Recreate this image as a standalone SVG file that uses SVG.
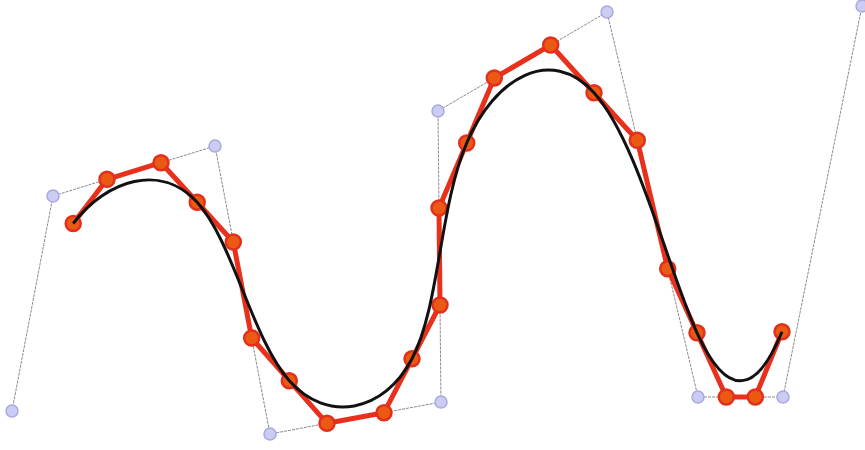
<svg xmlns="http://www.w3.org/2000/svg" width="865" height="450" viewBox="0 0 865 450">
<style>
.poly{fill:none;stroke:#8a8a8a;stroke-width:1;stroke-dasharray:3 1}
.cp{fill:#ccccf2;stroke:#a9a9e2;stroke-width:1.5}
.red{fill:none;stroke:#e8301c;stroke-width:5;stroke-linejoin:round}
.rp{fill:#ea5a14;stroke:#e2301c;stroke-width:2.5}
.curve{fill:none;stroke:#111;stroke-width:3}
</style>
<rect width="865" height="450" fill="#fff"/>
<g id="control-polygon">
<polyline class="poly" points="12,411 53,196 215,146 270,434 441,402 438,111 607,12 698,397 783,397 862,6"/>
<circle class="cp" cx="12" cy="411" r="6"/>
<circle class="cp" cx="53" cy="196" r="6"/>
<circle class="cp" cx="215" cy="146" r="6"/>
<circle class="cp" cx="270" cy="434" r="6"/>
<circle class="cp" cx="441" cy="402" r="6"/>
<circle class="cp" cx="438" cy="111" r="6"/>
<circle class="cp" cx="607" cy="12" r="6"/>
<circle class="cp" cx="698" cy="397" r="6"/>
<circle class="cp" cx="783" cy="397" r="6"/>
<circle class="cp" cx="862" cy="6" r="6"/>
</g>
<g id="bezier-polygon">
<polyline class="red" points="73.2,223.5 107,179.3 161,162.7 197.2,202.3 233.3,242 251.7,338 289.3,380.7 327,423.3 384,412.7 412,358.8 440,305 439,208 466.7,143 494.3,78 550.7,45 594,92.7 637.3,140.3 667.7,268.7 697,332.8 726.3,397 755.3,397 782,331.8"/>
<circle class="rp" cx="73.2" cy="223.5" r="7.5"/>
<circle class="rp" cx="107" cy="179.3" r="7.5"/>
<circle class="rp" cx="161" cy="162.7" r="7.5"/>
<circle class="rp" cx="197.2" cy="202.3" r="7.5"/>
<circle class="rp" cx="233.3" cy="242" r="7.5"/>
<circle class="rp" cx="251.7" cy="338" r="7.5"/>
<circle class="rp" cx="289.3" cy="380.7" r="7.5"/>
<circle class="rp" cx="327" cy="423.3" r="7.5"/>
<circle class="rp" cx="384" cy="412.7" r="7.5"/>
<circle class="rp" cx="412" cy="358.8" r="7.5"/>
<circle class="rp" cx="440" cy="305" r="7.5"/>
<circle class="rp" cx="439" cy="208" r="7.5"/>
<circle class="rp" cx="466.7" cy="143" r="7.5"/>
<circle class="rp" cx="494.3" cy="78" r="7.5"/>
<circle class="rp" cx="550.7" cy="45" r="7.5"/>
<circle class="rp" cx="594" cy="92.7" r="7.5"/>
<circle class="rp" cx="637.3" cy="140.3" r="7.5"/>
<circle class="rp" cx="667.7" cy="268.7" r="7.5"/>
<circle class="rp" cx="697" cy="332.8" r="7.5"/>
<circle class="rp" cx="726.3" cy="397" r="7.5"/>
<circle class="rp" cx="755.3" cy="397" r="7.5"/>
<circle class="rp" cx="782" cy="331.8" r="7.5"/>
</g>
<g id="spline-curve">
<path class="curve" d="M73.2,223.5 C107,179.3 161,162.7 197.2,202.3 C233.3,242 251.7,338 289.3,380.7 C327,423.3 384,412.7 412,358.8 C440,305 439,208 466.7,143 C494.3,78 550.7,45 594,92.7 C637.3,140.3 667.7,268.7 697,332.8 C726.3,397 755.3,397 782,331.8"/>
</g>
</svg>
